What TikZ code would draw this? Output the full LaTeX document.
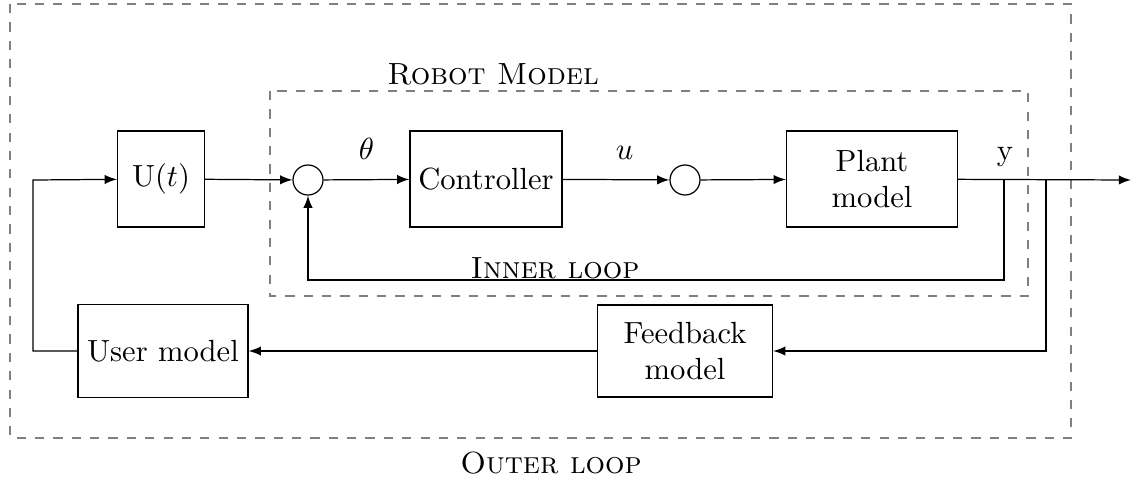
\documentclass[tikz,border=0pt]{standalone}
\usetikzlibrary{arrows.meta}
\begin{document}
\begin{tikzpicture}[x=0.3268pt,y=-0.3268pt,>=latex,
  block/.style={draw,align=center,inner sep=0pt},
  sumc/.style={draw,circle,minimum size=9.8pt,inner sep=0pt},
  frame/.style={draw=gray,dashed},
  lbl/.style={inner sep=0pt}]
\useasboundingbox (0,0) rectangle (1132,477);
\draw[frame] (10,4) rectangle (1071,438);
\draw[frame] (270,91) rectangle (1028,296);
\node[lbl] (rm) at (493,74) {\textsc{Robot Model}};
\node[lbl] (ol) at (551,463) {\textsc{Outer loop}};
\node[lbl] (il) at (555,268) {\textsc{Inner loop}};

\node[block,minimum width=28.4pt,minimum height=31.4pt] (U) at (161,179) {U$(t)$};
\node[sumc] (s1) at (308,180) {};
\node[block,minimum width=49.7pt,minimum height=31.4pt] (ctrl) at (486,179) {Controller};
\node[sumc] (s2) at (685,180) {};
\node[block,minimum width=55.9pt,minimum height=31.4pt] (plant) at (872,179) {Plant\\model};
\node[block,minimum width=55.6pt,minimum height=30.4pt] (um) at (163,351) {User model};
\node[block,minimum width=57.2pt,minimum height=30.1pt] (fb) at (685,351) {Feedback\\model};

\node[lbl] (ylab) at (1005,157) {y};
\coordinate (out) at (1131,180);
\coordinate (yp) at (1004,180);
\coordinate (ib) at (1004,280);
\coordinate (op) at (1046,180);
\coordinate (lp) at (33,180);

\draw[->] (U) -- (s1);
\draw[->] (s1) -- node[above=3pt]{$\theta$} (ctrl);
\draw[->] (ctrl) -- node[above=3pt,pos=0.58]{$u$} (s2);
\draw[->] (s2) -- (plant);
\draw[->] (plant) -- (out);
\draw[->] (yp) -- (ib) -| (s1);
\draw[->] (op) |- (fb);
\draw[->] (fb) -- (um);
\draw[->] (um.west) -| (lp) -- (U);
\end{tikzpicture}
\end{document}
